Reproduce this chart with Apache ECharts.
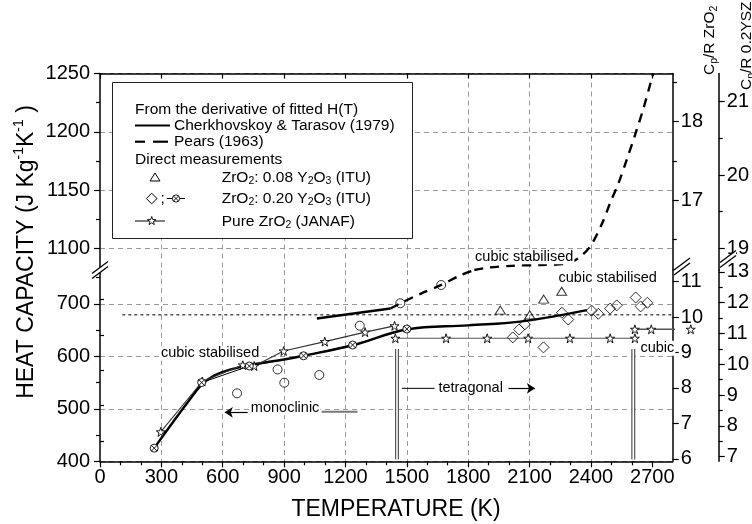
<!DOCTYPE html>
<html><head><meta charset="utf-8">
<script src="https://cdn.jsdelivr.net/npm/echarts@6/dist/echarts.min.js"></script>
<style>html,body{margin:0;padding:0;background:#fff}#c{width:752px;height:524px}</style>
</head><body><div id="c"></div>
<script>
// ---------------- data ----------------
const xTicks = [0,300,600,900,1200,1500,1800,2100,2400,2700];
const xMinor = [100,200,400,500,700,800,1000,1100,1300,1400,1600,1700,1900,2000,2200,2300,2500,2600];
const yTicksHigh = [1100,1150,1200,1250];
const yMinorHigh = [1125,1175,1225];
const yTicksLow = [400,500,600,700];
const yMinorLow = [450,550,650,750];
const zrTicksHigh = [17,18];
const zrMinorHigh = [16.5,17.5,18.5];
const zrTicksLow = [6,7,8,9,10,11];
const zrMinorLow = [6.5,7.5,8.5,9.5,10.5];
const yszTicksHigh = [19,20,21];
const yszMinorHigh = [19.5,20.5];
const yszTicksLow = [7,8,9,10,11,12,13];
const yszMinorLow = [7.5,8.5,9.5,10.5,11.5,12.5];

// Cherkhovskoy & Tarasov (1979) fit
const cherkT  = [265,350,430,497,560,640,754,900,995,1235,1500,1800,2053,2380];
const cherkCp = [425,471,513,546,564,575,585,594,601,621,651,659,666,688];
// Pears (1963) – lower and upper (after axis break) parts
const pearsLoT  = [1060,1420,1468,1572,1668,1765,1830];
const pearsLoCp = [672,691,701,720,736,755,764.4];
const pearsHiT  = [1830,1900,2021,2150,2278,2342,2398,2454,2494,2535,2575,2615,2655,2695,2705];
const pearsHiCp = [1081.4,1083.5,1085.1,1085.7,1086.8,1092,1102,1121,1139,1156,1176,1197,1219,1244,1250];
// open circles
const circT  = [670,868,901,1072,1270,1468,1668];
const circCp = [529.5,575,549.7,564.4,658.3,701,735.8];
// ZrO2: 0.08 Y2O3 (ITU)
const y08T  = [1957,2101,2169,2257];
const y08Cp = [688,679,709,724];
// ZrO2: 0.20 Y2O3 (ITU) points
const y20T  = [2018,2049,2077,2168,2258,2289,2403,2436,2494,2526,2619,2643,2676];
const y20Cp = [636,651,661,617,683,670,687,681,691,697,712,695,702];
// ZrO2: 0.20 Y2O3 (ITU) fit (crossed circles)
const y20fitT  = [265,497,730,995,1235,1500];
const y20fitCp = [425,550,581.5,601,621.5,652];
// Pure ZrO2 (JANAF)
const janafMonoT  = [297,500,698,754,898,1099,1296,1440];
const janafMonoCp = [456,552,583.5,581.5,610,628,646,658];
const janafTetT   = [1444,1692,1893,2093,2297,2494,2615];
const janafTetCp  = [634.3,634.3,634.3,634.3,634.3,634.3,634.3];
const janafCubT   = [2615,2695,2888];
const janafCubCp  = [651.4,651.4,651.4];
// reference dotted line and phase boundaries
const refT = [109,2800];
const refCp = [679,679];
const phaseT = [1452,2607];
const phaseCp = [404,614];

// ---------------- layout ----------------
const FONT = '"Liberation Sans", Arial, Helvetica, sans-serif';
const L = 100, R = 682, TOP = 73.5, SEAM = 270, BOT = 461.3;
const GRIDC = '#9a9a9a';
const pairs = (xs, ys) => xs.map((x, i) => [x, ys[i]]);
const plain = v => String(v);

const STAR = 'path://M0,-10L2.245,-3.09L9.511,-3.09L3.633,1.18L5.878,8.09L0,3.82L-5.878,8.09L-3.633,1.18L-9.511,-3.09L-2.245,-3.09Z';
const OTIMES = 'path://M10,0A10,10,0,1,1,-10,0A10,10,0,1,1,10,0ZM-7.07,-7.07L7.07,7.07M7.07,-7.07L-7.07,7.07';

const chart = echarts.init(document.getElementById('c'), null, {renderer: 'canvas'});

function xAx(grid, pos, opts) {
  return Object.assign({
    gridIndex: grid, type: 'value', position: pos, min: 0, max: 2800, interval: 300,
    axisLine: {show: true, onZero: false, lineStyle: {color: '#000', width: 1.5}},
    axisTick: {show: true, customValues: xTicks, length: 6, lineStyle: {color: '#000', width: 1.2}},
    axisLabel: {show: false, customValues: xTicks},
    splitLine: {show: true, showMinLine: false, showMaxLine: false, lineStyle: {color: GRIDC, type: [5, 4], width: 1}}
  }, opts);
}
function minorAx(base, vals, len) {
  return Object.assign({}, base, {
    axisLine: {show: false},
    axisTick: {show: true, customValues: vals, length: len, lineStyle: {color: '#000', width: 1.2}},
    axisLabel: {show: false},
    splitLine: {show: false}
  });
}
function yAx(grid, pos, offset, min, max, ticks, split) {
  return {
    gridIndex: grid, type: 'value', position: pos, offset: offset, min: min, max: max,
    axisLine: {show: true, onZero: false, lineStyle: {color: '#000', width: 1.5}},
    axisTick: {show: true, customValues: ticks, length: 6, lineStyle: {color: '#000', width: 1.2}},
    axisLabel: {show: true, customValues: ticks, formatter: plain, fontSize: 20, color: '#000', fontFamily: FONT, margin: pos === 'left' ? 10 : 8},
    splitLine: {show: split, lineStyle: {color: GRIDC, type: [5, 4], width: 1}}
  };
}

const yHighL = yAx(0, 'left', 0, 1081.4, 1250, yTicksHigh, true);
const yHighZr = yAx(0, 'right', 0, 16.106, 18.616, zrTicksHigh, false);
const yHighYsz = yAx(0, 'right', 46, 18.704, 21.385, yszTicksHigh, false);
const yLowL = yAx(1, 'left', 0, 400, 764.4, yTicksLow, true);
const yLowZr = yAx(1, 'right', 0, 400 / 67.47, 764.4 / 67.47, zrTicksLow, false);
const yLowYsz = yAx(1, 'right', 46, 6.851, 13.062, yszTicksLow, false);

const xTop = xAx(0, 'top', {axisTick: {show: true, inside: true, customValues: xTicks, length: 5, lineStyle: {color: '#000', width: 1.2}}});
const xBot = xAx(1, 'bottom', {axisLabel: {show: true, customValues: xTicks, formatter: plain, fontSize: 20, color: '#000', fontFamily: FONT, margin: 6}});

const LOW = {xAxisIndex: 1, yAxisIndex: 6};
const HIGH = {xAxisIndex: 0, yAxisIndex: 0};

function lineS(xy, data, style, extra) {
  return Object.assign({type: 'line', data: data, symbol: 'none', silent: true,
    lineStyle: style, z: 3}, xy, extra || {});
}

const series = [
  lineS(LOW, pairs(refT, refCp), {color: '#000', width: 1, type: [3, 3]}),
  // phase boundary hollow bars
  lineS(LOW, [[phaseT[0], phaseCp[0]], [phaseT[0], phaseCp[1]]], {color: '#555', width: 4}),
  lineS(LOW, [[phaseT[0], phaseCp[0]], [phaseT[0], phaseCp[1]]], {color: '#fff', width: 1.6}),
  lineS(LOW, [[phaseT[1], phaseCp[0]], [phaseT[1], phaseCp[1]]], {color: '#555', width: 4}),
  lineS(LOW, [[phaseT[1], phaseCp[0]], [phaseT[1], phaseCp[1]]], {color: '#fff', width: 1.6}),
  // Cherkhovskoy
  lineS(LOW, pairs(cherkT, cherkCp), {color: '#000', width: 2.4}, {smooth: 0.4}),
  // Pears
  lineS(LOW, pairs(pearsLoT.slice(0, 2), pearsLoCp.slice(0, 2)), {color: '#000', width: 2.4}),
  lineS(LOW, pairs(pearsLoT.slice(1), pearsLoCp.slice(1)), {color: '#000', width: 2.4, type: [9, 7]}, {smooth: 0.3}),
  lineS(HIGH, pairs(pearsHiT, pearsHiCp), {color: '#000', width: 2.4, type: [9, 7]}, {smooth: 0.3}),
  // JANAF
  lineS(LOW, pairs(janafMonoT, janafMonoCp), {color: '#333', width: 1.1},
    {symbol: STAR, symbolSize: 9, showAllSymbol: true, itemStyle: {color: '#fff', borderColor: '#000', borderWidth: 0.9}}),
  lineS(LOW, pairs(janafTetT, janafTetCp), {color: '#555', width: 1.1},
    {symbol: STAR, symbolSize: 9, showAllSymbol: true, itemStyle: {color: '#fff', borderColor: '#000', borderWidth: 0.9}}),
  lineS(LOW, pairs(janafCubT, janafCubCp), {color: '#555', width: 1.6},
    {symbol: STAR, symbolSize: 9, showAllSymbol: true, clip: false, itemStyle: {color: '#fff', borderColor: '#000', borderWidth: 0.9}}),
  // 0.20 Y2O3 fit
  lineS(LOW, pairs(y20fitT, y20fitCp), {color: '#000', width: 1},
    {symbol: OTIMES, symbolSize: 8, showAllSymbol: true, itemStyle: {color: '#fff', borderColor: '#000', borderWidth: 0.9}}),
  // annotation lines
  lineS(LOW, [[1083, 494.5], [1259, 494.5]], {color: '#777', width: 2}),
  lineS(LOW, [[1476, 539], [1636, 539]], {color: '#000', width: 1}, {
    markLine: {silent: true, symbol: ['none', 'arrow'], symbolSize: 8, label: {show: false},
      lineStyle: {color: '#000', width: 1.2, type: 'solid'},
      data: [[{coord: [722, 493.3]}, {coord: [610, 493.3]}], [{coord: [1997, 539]}, {coord: [2126, 539]}]]}
  }),
  // scatter points
  Object.assign({type: 'scatter', data: pairs(circT, circCp), symbol: 'circle', symbolSize: 9, z: 4,
    itemStyle: {color: 'rgba(255,255,255,0)', borderColor: '#000', borderWidth: 1}}, LOW),
  Object.assign({type: 'scatter', data: pairs(y08T, y08Cp), symbol: 'triangle', symbolSize: [10, 8], z: 4,
    itemStyle: {color: 'rgba(255,255,255,0)', borderColor: '#000', borderWidth: 1}}, LOW),
  Object.assign({type: 'scatter', data: pairs(y20T, y20Cp), symbol: 'diamond', symbolSize: [11, 11], z: 4,
    itemStyle: {color: 'rgba(255,255,255,0)', borderColor: '#000', borderWidth: 1}}, LOW)
];

chart.setOption({
  animation: false,
  backgroundColor: '#fff',
  textStyle: {fontFamily: FONT},
  grid: [
    {left: L, top: TOP, width: R - L, height: SEAM - TOP},
    {left: L, top: SEAM, width: R - L, height: BOT - SEAM}
  ],
  xAxis: [xTop, xBot, minorAx(xBot, xMinor, 4)],
  yAxis: [
    yHighL, minorAx(yHighL, yMinorHigh, 4),
    yHighZr, minorAx(yHighZr, zrMinorHigh, 4),
    yHighYsz, minorAx(yHighYsz, yszMinorHigh, 4),
    yLowL, minorAx(yLowL, yMinorLow, 4),
    yLowZr, minorAx(yLowZr, zrMinorLow, 4),
    yLowYsz, minorAx(yLowYsz, yszMinorLow, 4)
  ],
  series: series
});

// ---------------- graphic decorations ----------------
const g = [];
const txt = (x, y, text, size, extra) => ({type: 'text', x: x, y: y, z: 60, silent: true,
  style: Object.assign({text: text, font: size + 'px ' + FONT, fill: '#000', align: 'left', verticalAlign: 'middle'}, extra || {})});
const rich = (base, sub, lh) => ({a: {fontSize: base, fontFamily: FONT, lineHeight: lh, fill: '#000'},
  s: {fontSize: sub, fontFamily: FONT, lineHeight: sub, verticalAlign: 'bottom', fill: '#000'},
  u: {fontSize: sub, fontFamily: FONT, lineHeight: sub, verticalAlign: 'top', fill: '#000'}});
const seg = (x1, y1, x2, y2, w, c) => ({type: 'line', z: 61, silent: true,
  shape: {x1: x1, y1: y1, x2: x2, y2: y2}, style: {stroke: c || '#000', lineWidth: w || 1}});

// legend box
g.push({type: 'rect', z: 55, silent: true, shape: {x: 112.5, y: 82.5, width: 300, height: 156},
  style: {fill: '#fff', stroke: '#222', lineWidth: 1}});
const LF = 15.5;
g.push(txt(135, 110, 'From the derivative of fitted H(T)', LF));
g.push(seg(135, 125.5, 170, 125.5, 2.2));
g.push(txt(174, 125.5, 'Cherkhovskoy & Tarasov (1979)', LF));
g.push(seg(135, 141.7, 145, 141.7, 2.2));
g.push(seg(153, 141.7, 168, 141.7, 2.2));
g.push(txt(174, 141.7, 'Pears (1963)', LF));
g.push(txt(135, 159.3, 'Direct measurements', LF));
g.push({type: 'polygon', z: 61, silent: true, shape: {points: [[150, 181], [160, 181], [155, 173]]},
  style: {fill: 'none', stroke: '#000', lineWidth: 1}});
g.push(txt(221.7, 177.8, '{a|ZrO}{s|2}{a|: 0.08 Y}{s|2}{a|O}{s|3}{a| (ITU)}', LF, {rich: rich(LF, 10.5, 18)}));
g.push({type: 'polygon', z: 61, silent: true, shape: {points: [[151.7, 193.2], [157, 198.5], [151.7, 203.8], [146.4, 198.5]]},
  style: {fill: 'none', stroke: '#000', lineWidth: 1}});
g.push(txt(160.5, 198.5, ';', LF));
g.push(seg(166.7, 198.5, 185, 198.5, 1));
g.push({type: 'circle', z: 62, silent: true, shape: {cx: 176, cy: 198.5, r: 3.6}, style: {fill: '#fff', stroke: '#000', lineWidth: 0.9}});
g.push(Object.assign(seg(173.5, 196, 178.5, 201, 0.9), {z: 63}));
g.push(Object.assign(seg(178.5, 196, 173.5, 201, 0.9), {z: 63}));
g.push(txt(221.7, 198.8, '{a|ZrO}{s|2}{a|: 0.20 Y}{s|2}{a|O}{s|3}{a| (ITU)}', LF, {rich: rich(LF, 10.5, 18)}));
g.push(seg(135, 221, 165, 221, 1));
(function () {
  const pts = [];
  for (let i = 0; i < 10; i++) {
    const a = -Math.PI / 2 + i * Math.PI / 5, rr = i % 2 === 0 ? 4.5 : 1.8;
    pts.push([151.7 + rr * Math.cos(a), 221 + rr * Math.sin(a)]);
  }
  g.push({type: 'polygon', z: 62, silent: true, shape: {points: pts}, style: {fill: '#fff', stroke: '#000', lineWidth: 0.9}});
})();
g.push(txt(221.7, 221.3, '{a|Pure ZrO}{s|2}{a| (JANAF)}', LF, {rich: rich(LF, 10.5, 18)}));

// axis break marks
function brk(cx, cy) {
  g.push({type: 'polygon', z: 63, silent: true,
    shape: {points: [[cx - 8, cy + 3.5], [cx + 8, cy - 8.5], [cx + 8, cy - 3.5], [cx - 8, cy + 8.5]]},
    style: {fill: '#fff', stroke: 'none'}});
  g.push(Object.assign(seg(cx - 8, cy + 3.5, cx + 8, cy - 8.5, 1.3), {z: 64}));
  g.push(Object.assign(seg(cx - 8, cy + 8.5, cx + 8, cy - 3.5, 1.3), {z: 64}));
}
brk(L, 270);
brk(R, 266.5);
brk(R + 46, 259);

// axis titles
g.push(txt(396, 510, 'TEMPERATURE (K)', 23, {align: 'center'}));
g.push(Object.assign(txt(27, 252, '{a|HEAT CAPACITY (J Kg}{u|-1}{a|K}{u|-1}{a| )}', 23,
  {align: 'center', rich: rich(23, 14, 30)}), {rotation: Math.PI / 2}));
g.push(Object.assign(txt(710, 75, '{a|C}{s|p}{a|/R ZrO}{s|2}', 15.5, {rich: rich(15.5, 10.5, 19)}), {rotation: Math.PI / 2}));
g.push(Object.assign(txt(747, 90, '{a|C}{s|p}{a|/R 0.2YSZ}', 15.5, {rich: rich(15.5, 10.5, 19)}), {rotation: Math.PI / 2}));

// in-plot annotations placed in data coordinates
const notes = [
  {t: 'cubic stabilised', T: 538, Cp: 605.7, ax: LOW},
  {t: 'monoclinic', T: 905, Cp: 502, ax: LOW},
  {t: 'tetragonal', T: 1812, Cp: 539, ax: LOW},
  {t: 'cubic stabilised', T: 2074, Cp: 1092.8, ax: HIGH},
  {t: 'cubic stabilised', T: 2482, Cp: 748.6, ax: LOW},
  {t: 'cubic', T: 2725, Cp: 615.2, ax: LOW}
];
notes.forEach(n => {
  const p = chart.convertToPixel(n.ax, [n.T, n.Cp]);
  g.push(txt(p[0], p[1], n.t, 14.5, {align: 'center', backgroundColor: '#fff', padding: [0, 1]}));
});

chart.setOption({graphic: g});
</script>
</body></html>
